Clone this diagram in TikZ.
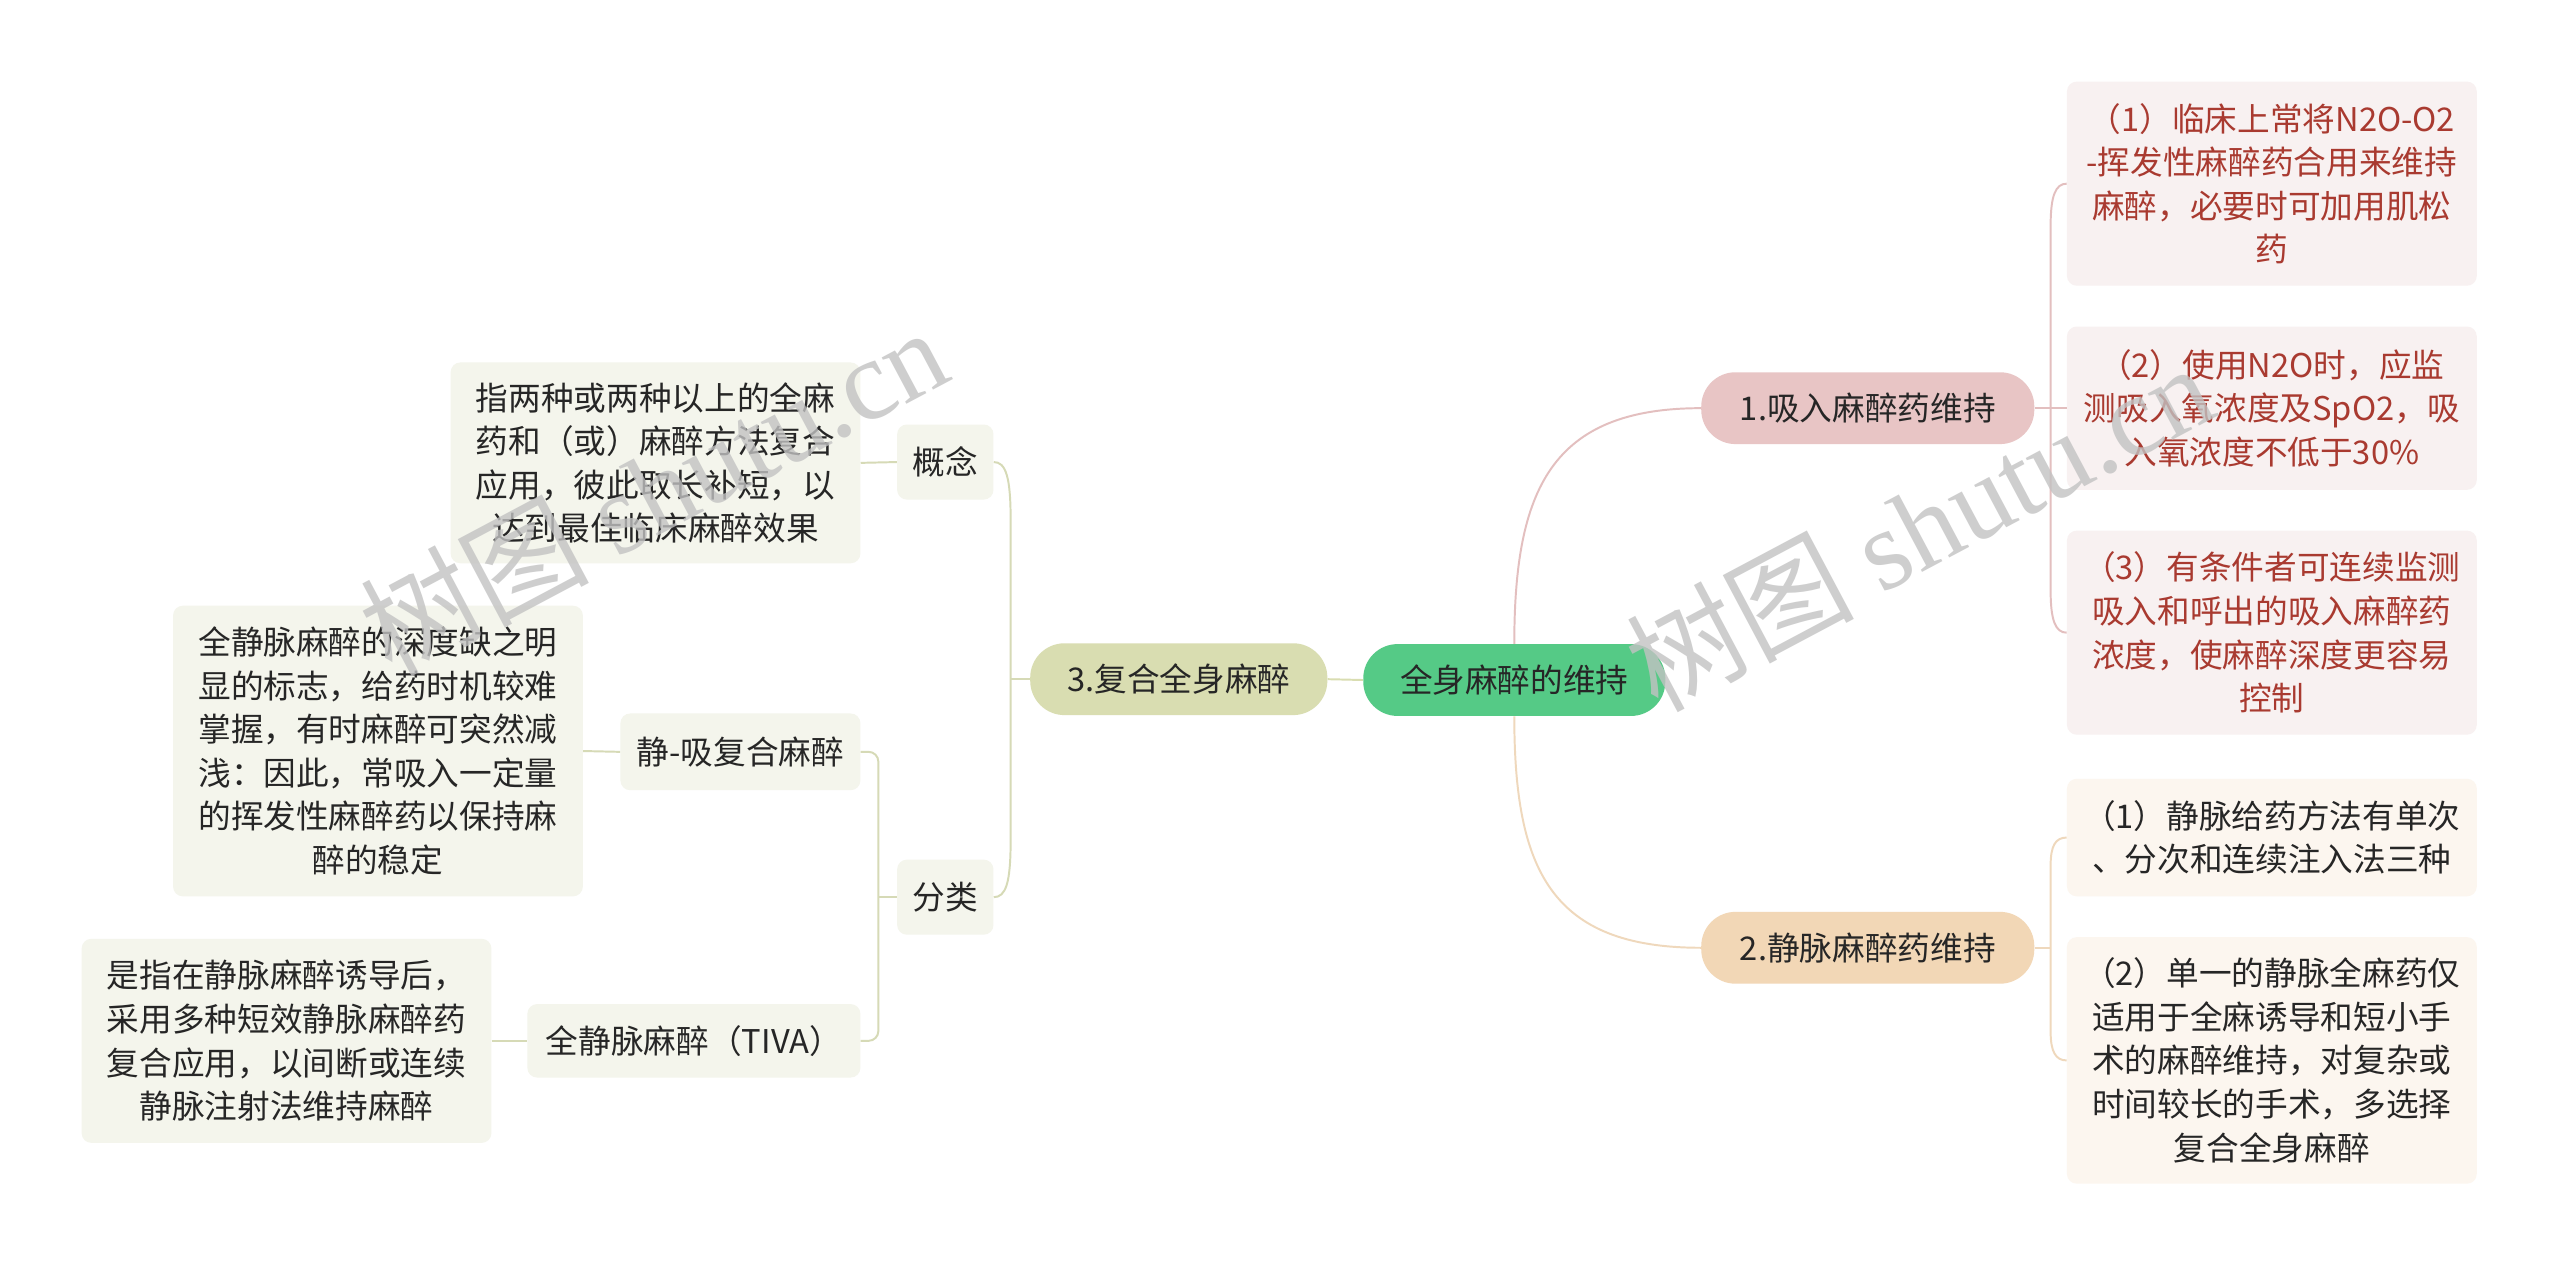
\documentclass[tikz,border=0pt]{standalone}
\usepackage{fontspec}
\setmainfont{Noto Sans CJK SC}
\newfontfamily\wmfont{Liberation Serif}
\definecolor{cgreen}{HTML}{55CA86}
\definecolor{colive}{HTML}{D9DDB1}
\definecolor{lolive}{HTML}{D6DAB6}
\definecolor{cpink}{HTML}{E8C5C5}
\definecolor{lpink}{HTML}{E3BFBF}
\definecolor{cpeach}{HTML}{F2D7B6}
\definecolor{lpeach}{HTML}{EFD8BC}
\definecolor{fpink}{HTML}{F8F1F1}
\definecolor{fpeach}{HTML}{FCF6EF}
\definecolor{fleft}{HTML}{F4F5EC}
\definecolor{tred}{HTML}{A93A30}
\definecolor{tdark}{HTML}{262626}
\begin{document}
\begin{tikzpicture}[x=1pt,y=-1pt,
  txt/.style={font=\fontsize{20}{26.7}\selectfont, text=tdark},
  pill/.style={txt, rounded corners=21pt, minimum height=44pt, inner sep=0pt},
  box/.style={txt, rounded corners=6pt, inner sep=0pt, align=center},
  leafr/.style={box, fill=fpink, text=tred, minimum width=251pt},
  leafp/.style={box, fill=fpeach, minimum width=251pt},
  leafl/.style={box, fill=fleft, minimum width=251pt},
  small/.style={box, fill=fleft},
  conn/.style={line width=1.2pt},
  wm/.style={rotate=28, text=black!24, opacity=0.8, font=\fontsize{70}{70}\selectfont}
]
\fill[white] (0,0) rectangle (1568,777);
\useasboundingbox (0,0) rectangle (1568,777);

% main nodes
\node[pill, fill=cgreen, minimum width=185pt] (root) at (927.5,416.5) {全身麻醉的维持};
\node[pill, fill=colive, minimum width=182pt] (n3) at (722,416) {3.复合全身麻醉};
\node[pill, fill=cpink, minimum width=204pt] (n1) at (1144,250) {1.吸入麻醉药维持};
\node[pill, fill=cpeach, minimum width=204pt] (n2) at (1144,580.5) {2.静脉麻醉药维持};

% right leaves of 1
\node[leafr, minimum height=125pt] (ra) at (1391.5,112.5) {（1）临床上常将N2O-O2\\-挥发性麻醉药合用来维持\\麻醉，必要时可加用肌松\\药};
\node[leafr, minimum height=100pt] (rb) at (1391.5,250) {（2）使用N2O时，应监\\测吸入氧浓度及SpO2，吸\\入氧浓度不低于30\%};
\node[leafr, minimum height=125pt] (rc) at (1391.5,387.5) {（3）有条件者可连续监测\\吸入和呼出的吸入麻醉药\\浓度，使麻醉深度更容易\\控制};

% right leaves of 2
\node[leafp, minimum height=72pt] (rd) at (1391.5,513) {（1）静脉给药方法有单次\\、分次和连续注入法三种};
\node[leafp, minimum height=151pt] (re) at (1391.5,649.5) {（2）单一的静脉全麻药仅\\适用于全麻诱导和短小手\\术的麻醉维持，对复杂或\\时间较长的手术，多选择\\复合全身麻醉};

% left subtree
\node[small, minimum width=59pt, minimum height=46pt] (gn) at (579,283) {概念};
\node[small, minimum width=59pt, minimum height=46pt] (fl) at (579,549.5) {分类};
\node[leafl, minimum height=123pt] (gnt) at (401.5,283.5) {指两种或两种以上的全麻\\药和（或）麻醉方法复合\\应用，彼此取长补短，以\\达到最佳临床麻醉效果};
\node[small, minimum width=147pt, minimum height=47pt] (jx) at (453.5,460.5) {静-吸复合麻醉};
\node[small, minimum width=204pt, minimum height=45pt] (tv) at (425,637.5) {全静脉麻醉（TIVA）};
\node[leafl, minimum height=178pt] (jxt) at (231.5,460) {全静脉麻醉的深度缺之明\\显的标志，给药时机较难\\掌握，有时麻醉可突然减\\浅：因此，常吸入一定量\\的挥发性麻醉药以保持麻\\醉的稳定};
\node[leafl, minimum height=125pt] (tvt) at (175.5,637.5) {是指在静脉麻醉诱导后，\\采用多种短效静脉麻醉药\\复合应用，以间断或连续\\静脉注射法维持麻醉};

\coordinate (b1) at (1256,250);
\coordinate (b2) at (1256,580.5);
\coordinate (b3) at (619,416);
\coordinate (b4) at (538,549.5);

% connectors
\draw[conn, colive] (root.west) -- (n3.east);
\draw[conn, lpink] (root.north) .. controls (927.5,300) and (950,250) .. (n1.west);
\draw[conn, lpeach] (root.south) .. controls (927.5,533) and (950,580.5) .. (n2.west);

\draw[conn, lpink] (n1.east) -- (b1) -- (rb.west);
\draw[conn, lpink] (ra.west) .. controls (1259,112.5) and (1256,120) .. (1256,138) -- (1256,362) .. controls (1256,380) and (1259,387.5) .. (rc.west);

\draw[conn, lpeach] (n2.east) -- (b2);
\draw[conn, lpeach] (rd.west) .. controls (1259,513) and (1256,518) .. (1256,530) -- (1256,632) .. controls (1256,644) and (1259,649.5) .. (re.west);

\draw[conn, lolive] (n3.west) -- (b3);
\draw[conn, lolive] (gn.east) .. controls (616,283) and (619,292) .. (619,318) -- (619,515) .. controls (619,541) and (616,549.5) .. (fl.east);
\draw[conn, lolive] (gnt.east) -- (gn.west);

\draw[conn, lolive] (fl.west) -- (b4);
\draw[conn, lolive, rounded corners=6pt] (jx.east) -- (538,460.5) -- (538,637.5) -- (tv.east);
\draw[conn, lolive] (jxt.east) -- (jx.west);
\draw[conn, lolive] (tvt.east) -- (tv.west);

% watermarks
\node[wm] (wm1) at (400,300) {树图 {\wmfont shutu.cn}};
\node[wm] (wm2) at (1175,322) {树图 {\wmfont shutu.cn}};
\end{tikzpicture}
\end{document}
